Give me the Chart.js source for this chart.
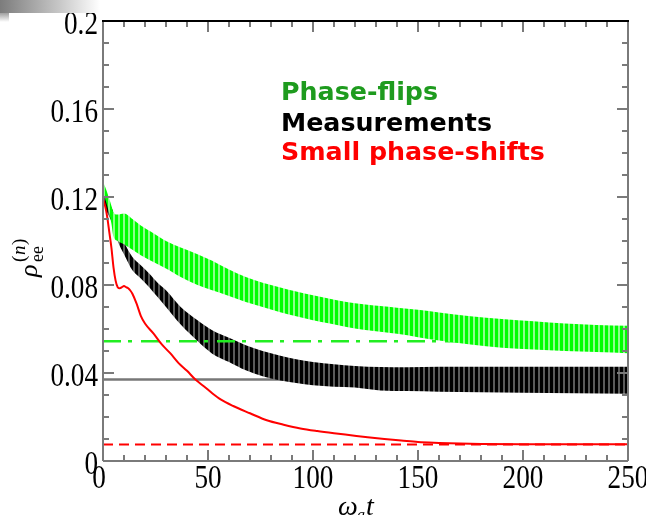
<!DOCTYPE html>
<html lang="en">
<head>
<meta charset="UTF-8">
<title>rho_ee decay</title>
<script src="https://cdn.jsdelivr.net/npm/chart.js"></script>
<style>
  body { margin: 0; background: #fff; }
  .wrap { position: relative; width: 646px; height: 515px; overflow: hidden; }
  .shade { position: absolute; left: 0; top: 0; width: 100px; height: 13px;
           background: linear-gradient(to right, #7c7c7c, #c8c8c8 60%, #fff); }
  .shade2 { position: absolute; left: 0; top: 13px; width: 9px; height: 9px;
            background: linear-gradient(to bottom, #a0a0a0, #fff); }
</style>
</head>
<body>
<div class="wrap">
  <canvas id="chart" width="646" height="515"></canvas>
  <div class="shade"></div>
  <div class="shade2"></div>
</div>
<script>
// small phase-shifts (red curve)
const redT = [0, 1, 2, 3, 4, 5, 6, 7, 8, 9, 10, 11, 12, 13, 14, 16, 18, 20, 24, 28, 32, 36, 40, 44, 48, 52, 56, 62, 70, 78, 86, 94, 102, 110, 118, 126, 134, 142, 150, 160, 170, 180, 200, 220, 250];
const redV = [0.119, 0.116, 0.111, 0.104, 0.097, 0.088, 0.082, 0.079, 0.0785, 0.079, 0.0795, 0.079, 0.0785, 0.0775, 0.076, 0.0715, 0.066, 0.0625, 0.058, 0.053, 0.049, 0.0445, 0.041, 0.037, 0.034, 0.0308, 0.028, 0.025, 0.0217, 0.0185, 0.0165, 0.0148, 0.0136, 0.0126, 0.0117, 0.0108, 0.0100, 0.0093, 0.0086, 0.0082, 0.0079, 0.0077, 0.0076, 0.0076, 0.0076];

// phase-flips (green band, lower / upper edge of the oscillation)
const greenT = [0, 2, 4, 5, 7, 10, 14, 18, 24, 30, 37, 45, 52, 60, 68, 76, 84, 92, 100, 108, 116, 124, 132, 140, 150, 160, 175, 190, 205, 220, 235, 250];
const greenHi = [0.127, 0.122, 0.116, 0.113, 0.112, 0.1125, 0.110, 0.107, 0.1035, 0.100, 0.097, 0.094, 0.091, 0.087, 0.0836, 0.081, 0.079, 0.077, 0.0753, 0.0738, 0.0723, 0.0712, 0.0704, 0.0697, 0.0687, 0.0675, 0.0658, 0.0645, 0.0635, 0.0625, 0.0618, 0.0615];
const greenLo = [0.122, 0.116, 0.108, 0.102, 0.100, 0.0985, 0.096, 0.0935, 0.0905, 0.0875, 0.0836, 0.080, 0.0776, 0.075, 0.0723, 0.070, 0.0677, 0.0658, 0.064, 0.0625, 0.0609, 0.0597, 0.0588, 0.0578, 0.0563, 0.0548, 0.053, 0.0515, 0.0507, 0.050, 0.0495, 0.049];

// measurements (black band)
const blackT = [0, 2, 5, 7, 10, 14, 18, 22, 26, 30, 37, 45, 52, 60, 68, 76, 84, 92, 100, 110, 120, 132, 145, 160, 180, 200, 225, 250];
const blackHi = [0.122, 0.1185, 0.113, 0.106, 0.0995, 0.0927, 0.089, 0.0852, 0.081, 0.0776, 0.070, 0.064, 0.0594, 0.056, 0.0526, 0.050, 0.048, 0.0463, 0.045, 0.044, 0.0432, 0.0427, 0.0426, 0.0428, 0.0428, 0.0428, 0.0428, 0.0428];
const blackLo = [0.118, 0.113, 0.107, 0.100, 0.094, 0.0867, 0.083, 0.079, 0.0745, 0.070, 0.062, 0.0545, 0.0488, 0.045, 0.0412, 0.0385, 0.0367, 0.0355, 0.0344, 0.0338, 0.0334, 0.0321, 0.0318, 0.0315, 0.0312, 0.031, 0.0308, 0.0306];

// steady-state levels
const levelGreen = 0.0544;
const levelBlack = 0.037;
const levelRed = 0.0075;

const legendText = ['Phase-flips', 'Measurements', 'Small phase-shifts'];
const legendColor = ['#1e9b1e', '#000000', '#ff0000'];

const xy = (ts, vs) => ts.map((t, i) => ({ x: t, y: vs[i] }));
const flat = v => [{ x: 0, y: v }, { x: 250, y: v }];

const ctx = document.getElementById('chart').getContext('2d');

// vertical hatching for the fast oscillations
function stripes(base, light) {
  const c = document.createElement('canvas');
  c.width = 5; c.height = 1;
  const g = c.getContext('2d');
  g.fillStyle = base; g.fillRect(0, 0, 5, 1);
  g.fillStyle = light; g.fillRect(3, 0, 2, 1);
  return ctx.createPattern(c, 'repeat');
}

const frame = {
  id: 'frame',
  afterDatasetsDraw(chart) {
    const { ctx, chartArea: a, scales: { x, y } } = chart;
    ctx.save();
    ctx.lineWidth = 2;
    ctx.strokeStyle = '#7a7a7a';
    const seg = (x1, y1, x2, y2) => { ctx.beginPath(); ctx.moveTo(x1, y1); ctx.lineTo(x2, y2); ctx.stroke(); };
    x.ticks.forEach(t => {
      const p = Math.round(x.getPixelForValue(t.value));
      const len = t.label !== '' ? 11 : 6;
      seg(p, a.bottom, p, a.bottom - len);
      seg(p, a.top, p, a.top + len);
    });
    y.ticks.forEach(t => {
      const p = Math.round(y.getPixelForValue(t.value));
      const len = t.label !== '' ? 11 : 6;
      seg(a.left, p, a.left + len, p);
      seg(a.right, p, a.right - len, p);
    });
    seg(a.left, a.top, a.left, a.bottom);
    seg(a.left, a.bottom, a.right, a.bottom);
    seg(a.right, a.top, a.right, a.bottom);
    ctx.strokeStyle = '#000';
    seg(a.left - 1, a.top, a.right + 1, a.top);

    // tick labels, narrow serif
    ctx.fillStyle = '#000';
    ctx.font = '34px "Liberation Serif"';
    ctx.textBaseline = 'middle';
    y.ticks.forEach(t => {
      if (t.label === '') return;
      ctx.save();
      ctx.translate(a.left - 5, y.getPixelForValue(t.value) + 4);
      ctx.scale(0.8, 1);
      ctx.textAlign = 'right';
      ctx.fillText(t.label, 0, 0);
      ctx.restore();
    });
    x.ticks.forEach(t => {
      if (t.label === '') return;
      ctx.save();
      ctx.translate(x.getPixelForValue(t.value) - (t.value === 0 ? 4 : 0), a.bottom + 18);
      ctx.scale(0.8, 1);
      ctx.textAlign = 'center';
      ctx.fillText(t.label, 0, 0);
      ctx.restore();
    });

    // axis titles
    ctx.textBaseline = 'alphabetic';
    ctx.textAlign = 'left';
    ctx.font = 'italic 28px "Liberation Serif"';
    ctx.fillText('\u03C9', 338, 515);
    ctx.font = 'italic 16px "Liberation Serif"';
    ctx.fillText('a', 357, 520);
    ctx.font = 'italic 28px "Liberation Serif"';
    ctx.fillText('t', 366, 515);

    ctx.save();
    ctx.translate(37, 277);
    ctx.rotate(-Math.PI / 2);
    ctx.font = 'italic 26px "Liberation Serif"';
    ctx.fillText('\u03C1', 0, 0);
    ctx.font = '18px "Liberation Serif"';
    ctx.fillText('ee', 15, 6);
    ctx.font = '19px "Liberation Serif"';
    ctx.fillText('(', 15, -12);
    ctx.font = 'italic 19px "Liberation Serif"';
    ctx.fillText('n', 22, -12);
    ctx.font = '19px "Liberation Serif"';
    ctx.fillText(')', 32, -12);
    ctx.restore();

    // series names
    ctx.font = 'bold 24px "DejaVu Sans"';
    [100, 131, 160].forEach((by, i) => {
      ctx.save();
      ctx.translate(281, by);
      ctx.scale(1.055, 1);
      ctx.fillStyle = legendColor[i];
      ctx.fillText(legendText[i], 0, 0);
      ctx.restore();
    });
    ctx.restore();
  }
};

const band = { borderWidth: 0, cubicInterpolationMode: 'monotone' };

new Chart(ctx, {
  type: 'line',
  data: {
    datasets: [
      { data: flat(levelRed), borderColor: '#ff0000', borderWidth: 2, borderDash: [10, 6], order: 0 },
      { data: xy(redT, redV), borderColor: '#ff0000', borderWidth: 2, cubicInterpolationMode: 'monotone', order: 1 },
      { ...band, data: xy(greenT, greenLo), order: 3 },
      { ...band, data: xy(greenT, greenHi), fill: '-1', backgroundColor: stripes('#00ff00', '#8cff8c'), order: 2 },
      { data: flat(levelGreen), borderColor: '#22ee22', borderWidth: 2.5, borderDash: [18, 7, 4, 9], order: 4 },
      { ...band, data: xy(blackT, blackLo), order: 6 },
      { ...band, data: xy(blackT, blackHi), fill: '-1', backgroundColor: stripes('#000000', '#5a5a5a'), order: 5 },
      { data: flat(levelBlack), borderColor: '#777777', borderWidth: 2.5, order: 7 }
    ]
  },
  options: {
    responsive: false,
    animation: false,
    devicePixelRatio: 1,
    layout: { padding: { left: 103, top: 21, right: 18, bottom: 54 } },
    elements: { point: { radius: 0 }, line: { fill: false } },
    plugins: { legend: { display: false }, tooltip: { enabled: false } },
    scales: {
      x: {
        type: 'linear', min: 0, max: 250,
        grid: { display: false, drawTicks: false },
        border: { display: false },
        ticks: { display: false, stepSize: 10, autoSkip: false,
                 callback: v => (v % 50 === 0 ? String(v) : '') },
        afterFit(s) { s.height = 0; s.paddingLeft = 0; s.paddingRight = 0; }
      },
      y: {
        type: 'linear', min: 0, max: 0.2,
        grid: { display: false, drawTicks: false },
        border: { display: false },
        ticks: { display: false, stepSize: 0.01, autoSkip: false,
                 callback: v => {
                   const k = Math.round(v * 100);
                   if (k % 4 !== 0) return '';
                   return k === 0 ? '0' : String(k / 100);
                 } },
        afterFit(s) { s.width = 0; s.paddingTop = 0; s.paddingBottom = 0; }
      }
    }
  },
  plugins: [frame]
});
</script>
</body>
</html>
